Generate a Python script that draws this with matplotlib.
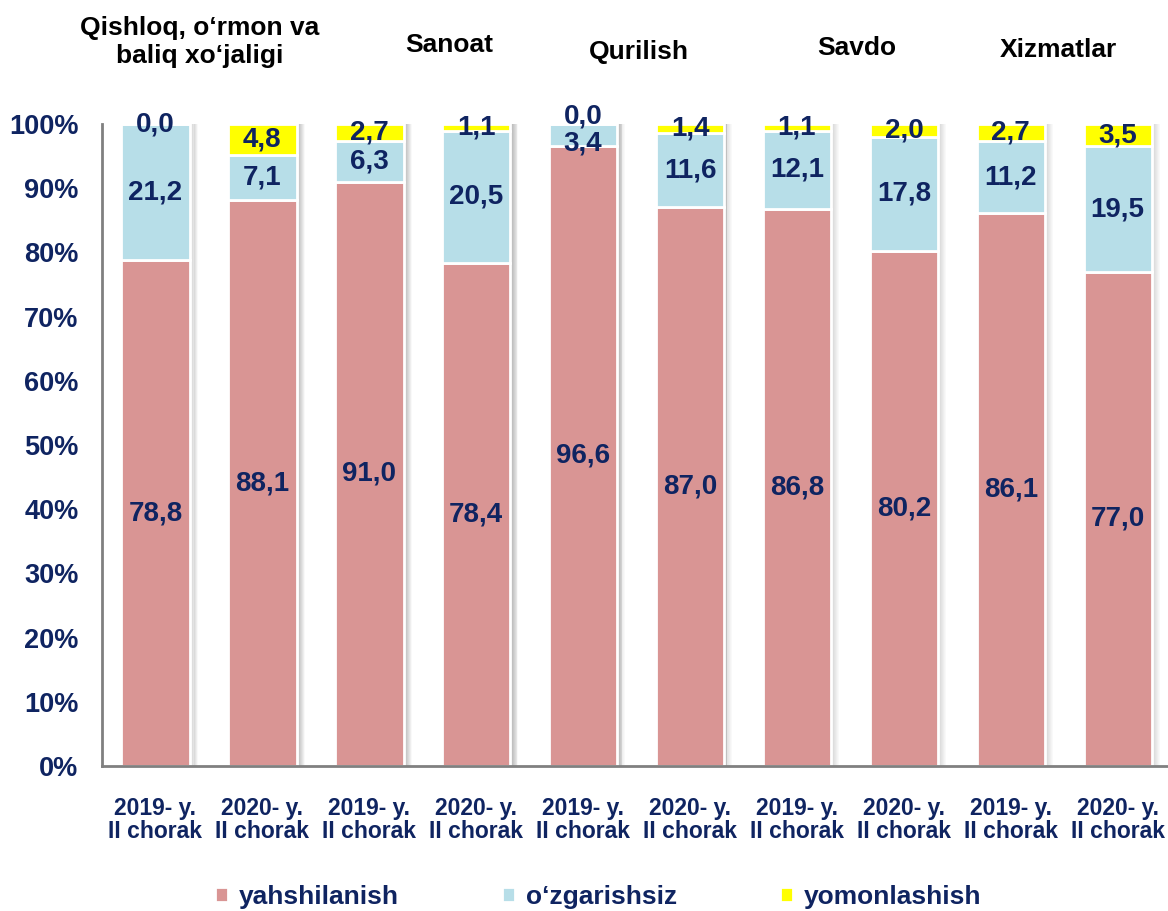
import matplotlib.pyplot as plt
import numpy as np

plt.rcParams['font.family'] = ['Liberation Sans', 'DejaVu Sans']

periods = ['2019- y.\nII chorak', '2020- y.\nII chorak'] * 5
groups = ['Qishloq, o‘rmon va\nbaliq xo‘jaligi', 'Sanoat', 'Qurilish', 'Savdo', 'Xizmatlar']
yahshi = [78.8, 88.1, 91.0, 78.4, 96.6, 87.0, 86.8, 80.2, 86.1, 77.0]
ozgar = [21.2, 7.1, 6.3, 20.5, 3.4, 11.6, 12.1, 17.8, 11.2, 19.5]
yomon = [0.0, 4.8, 2.7, 1.1, 0.0, 1.4, 1.1, 2.0, 2.7, 3.5]

navy = '#0F2461'
c_yah = '#D99594'
c_ozg = '#B7DEE8'
c_yom = '#FFFF00'

fig = plt.figure(figsize=(11.68, 9.11), dpi=100)
ax = fig.add_axes([102/1168, 1 - 766/911, 1 - 102/1168, (766 - 124)/911])

x = np.arange(len(yahshi))
w = 0.64
yah = np.array(yahshi)
ozg = np.array(ozgar)
yom = np.array(yomon)
total = yah + ozg + yom

# soft shadow to the right of each bar
for k in range(8):
    ax.bar(x + w/2 + 0.006 + k*0.009, total, width=0.012, color='gray',
           alpha=0.35*(1 - k/8), linewidth=0, zorder=1)

b1 = ax.bar(x, yah, w, color=c_yah, edgecolor='white', linewidth=2, zorder=2, label='yahshilanish')
b2 = ax.bar(x, ozg, w, bottom=yah, color=c_ozg, edgecolor='white', linewidth=2, zorder=2, label='o‘zgarishsiz')
b3 = ax.bar(x, yom, w, bottom=yah + ozg, color=c_yom, edgecolor='white', linewidth=2, zorder=2, label='yomonlashish')

def fmt(v):
    return f'{v:.1f}'.replace('.', ',')

lab = dict(ha='center', va='center', color=navy, fontsize=20, fontweight='bold', zorder=5)
for i in x:
    ax.text(i, yah[i]/2, fmt(yah[i]), **lab)
    yb = yah[i] + ozg[i]/2
    yy = yah[i] + ozg[i] + yom[i]/2
    if ozg[i] < 5:
        yb -= 1.3
        yy += 1.2
    ax.text(i, yb, fmt(ozg[i]), **lab)
    ax.text(i, yy, fmt(yom[i]), **lab)

ax.set_xlim(-0.5, 9.47)
ax.set_ylim(0, 100)
ax.set_yticks(np.arange(0, 101, 10))
ax.set_yticklabels([f'{v}%' for v in range(0, 101, 10)])
ax.set_xticks(x)
ax.set_xticklabels(periods)
ax.tick_params(axis='y', length=0, pad=17, labelsize=19.5, labelcolor=navy)
ax.tick_params(axis='x', length=0, pad=22, labelsize=16.5, labelcolor=navy)
for t in ax.get_xticklabels() + ax.get_yticklabels():
    t.set_fontweight('bold')
    t.set_linespacing(1.0)

for s in ['top', 'right']:
    ax.spines[s].set_visible(False)
for s in ['left', 'bottom']:
    ax.spines[s].set_color('#808080')
    ax.spines[s].set_linewidth(2)

title_pos = [(200, 42), (449, 45), (639, 52), (857, 48), (1058, 50)]
for g, (px, py) in zip(groups, title_pos):
    fig.text(px/1168, 1 - py/911, g, ha='center', va='center', fontsize=19,
             fontweight='bold', color='black', linespacing=1.25)

leg = fig.legend(handles=[b1, b2, b3], loc='center', bbox_to_anchor=(598/1168, 1 - 897/911),
                 ncol=3, frameon=False, fontsize=19, handlelength=0.5, handleheight=0.5,
                 handletextpad=0.4, columnspacing=3.9)
for t in leg.get_texts():
    t.set_color(navy)
    t.set_fontweight('bold')

fig.savefig('out.png', dpi=100)
